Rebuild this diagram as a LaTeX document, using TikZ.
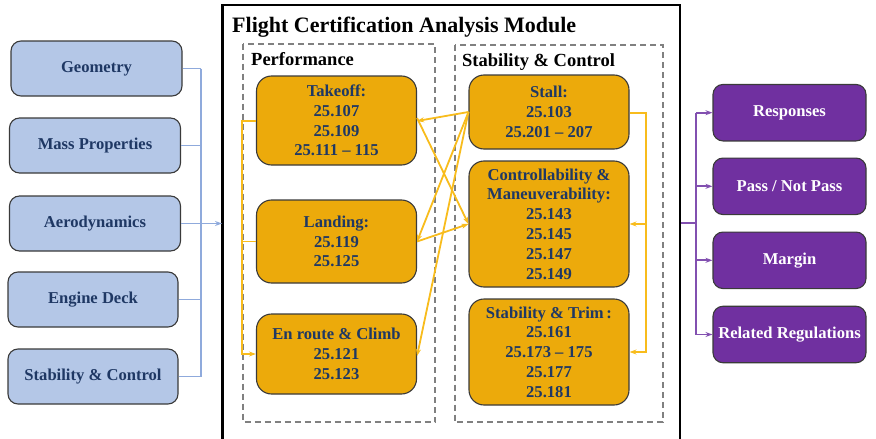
\documentclass[tikz,border=0pt]{standalone}
\usepackage{fontspec}
\setmainfont{Liberation Serif}
\usetikzlibrary{arrows.meta}

\definecolor{navy}{HTML}{1F3864}
\definecolor{inblue}{HTML}{B4C7E7}
\definecolor{inlink}{HTML}{8FAADC}
\definecolor{regfill}{HTML}{ECAA0B}
\definecolor{reglink}{HTML}{F8BC1C}
\definecolor{outfill}{HTML}{7030A0}
\definecolor{outlink}{HTML}{8250B0}
\definecolor{boxline}{HTML}{3A3A3A}

\tikzset{
  txt/.style={font=\fontsize{16.6}{19.8}\selectfont\bfseries},
  inbox/.style={txt, draw=boxline, line width=1.1pt, fill=inblue, text=navy,
    rounded corners=10pt, minimum width=171pt, minimum height=55pt, inner sep=0pt},
  regbox/.style={txt, draw=boxline, line width=1.1pt, fill=regfill, text=navy,
    rounded corners=15pt, minimum width=160pt, inner sep=0pt, align=center},
  outbox/.style={txt, draw=boxline, line width=1.1pt, fill=outfill, text=white,
    rounded corners=10pt, minimum width=153pt, minimum height=56.5pt, inner sep=0pt},
  group/.style={draw=black!50, line width=2pt, dash pattern=on 6pt off 4pt},
  tip/.style={-{Stealth[length=7pt,width=5pt]}},
  inlk/.style={draw=inlink, line width=1.8pt},
  reglk/.style={draw=reglink, line width=1.8pt},
  outlk/.style={draw=outlink, line width=1.8pt},
}

\begin{document}
\begin{tikzpicture}[x=1pt,y=-1pt]
\useasboundingbox (0,0) rectangle (876,439);

% module frame, open at the bottom edge
\draw[line width=2.4pt] (222.5,439) -- (222.5,5) -- (680,5) -- (680,439);
\node[anchor=base west, font=\fontsize{22}{26}\selectfont\bfseries, inner sep=0pt]
  (title) at (232,32) {Flight Certification Analysis Module};

% groups
\draw[group] (243,43.5) rectangle (435,422);
\draw[group] (454.5,44.5) rectangle (662.5,422);
\node[anchor=base west, font=\fontsize{18.5}{22}\selectfont\bfseries, inner sep=0pt]
  (perf) at (251,65) {Performance};
\node[anchor=base west, font=\fontsize{18.5}{22}\selectfont\bfseries, inner sep=0pt]
  (stab) at (462,66) {Stability \& Control};

% inputs
\node[inbox] (geo)  at (96.5,68.5)  {Geometry};
\node[inbox] (mass) at (95,145.5)   {Mass Properties};
\node[inbox] (aero) at (95,223.5)   {Aerodynamics};
\node[inbox, minimum width=170pt] (eng) at (93,299.5)  {Engine Deck};
\node[inbox, minimum width=170pt] (sc)  at (93,376.5)  {Stability \& Control};

% performance regulations
\node[regbox, minimum height=89pt] (tko)  at (336.5,120.5) {Takeoff:\\25.107\\25.109\\25.111 -- 115};
\node[regbox, minimum height=83pt] (lnd)  at (336.5,241.5) {Landing:\\25.119\\25.125};
\node[regbox, minimum height=80pt] (enr)  at (336.5,354)   {En route \& Climb\\25.121\\25.123};

% stability & control regulations
\node[regbox, minimum height=74pt]  (stall) at (549,112)  {Stall:\\25.103\\25.201 -- 207};
\node[regbox, minimum height=126pt] (ctrl)  at (549,224)  {Controllability \&\\Maneuverability:\\25.143\\25.145\\25.147\\25.149};
\node[regbox, minimum height=106pt] (trim)  at (549,352)  {Stability \& Trim\,:\\25.161\\25.173 -- 175\\25.177\\25.181};

% outputs
\node[outbox] (resp) at (789.5,112.7) {Responses};
\node[outbox] (pass) at (789.5,186.3) {Pass / Not Pass};
\node[outbox] (marg) at (789.5,260.3) {Margin};
\node[outbox] (rreg) at (789.5,334.5) {Related Regulations};

% input bus into the module
\coordinate (ibus) at (201,0);
\coordinate (fin)  at (222,223.5);
\draw[inlk] (geo.east)  -- (geo.east -| ibus);
\draw[inlk] (mass.east) -- (mass.east -| ibus);
\draw[inlk] (eng.east)  -- (eng.east -| ibus);
\draw[inlk] (sc.east)   -- (sc.east -| ibus);
\draw[inlk] (geo.east -| ibus) -- (sc.east -| ibus);
\draw[inlk, tip] (aero.east) -- (fin);

% performance chain on the left
\coordinate (pbus) at (242,0);
\draw[reglk, tip] ([yshift=-0.5pt]tko.west) -- ([yshift=-0.5pt]tko.west -| pbus) |- (enr.west);
\draw[reglk] (lnd.west) -- (lnd.west -| pbus);

% links between the two groups
\draw[reglk, tip] (stall.west) -- ([yshift=-0.5pt]tko.east);
\draw[reglk, tip] (stall.west) -- (lnd.east);
\draw[reglk, tip] (stall.west) -- ([yshift=-2pt]enr.east);
\draw[reglk, tip] ([yshift=2.5pt]tko.east) -- (ctrl.west);
\draw[reglk, tip] (lnd.east) -- (ctrl.west);

% stall feeds the other stability items
\coordinate (sbus) at (646,0);
\draw[reglk, tip] ([yshift=-1pt]stall.east) -- ([yshift=-1pt]stall.east -| sbus) |- (ctrl.east);
\draw[reglk, tip] ([yshift=-1pt]stall.east -| sbus) |- (trim.east);

% output bus
\coordinate (fout) at (681,223.3);
\coordinate (obus) at (696,0);
\draw[outlk] (fout) -- (fout -| obus);
\draw[outlk] (resp.west -| obus) -- (rreg.west -| obus);
\draw[outlk, tip] (resp.west -| obus) -- (resp.west);
\draw[outlk, tip] (pass.west -| obus) -- (pass.west);
\draw[outlk, tip] (marg.west -| obus) -- (marg.west);
\draw[outlk, tip] (rreg.west -| obus) -- (rreg.west);
\end{tikzpicture}
\end{document}
